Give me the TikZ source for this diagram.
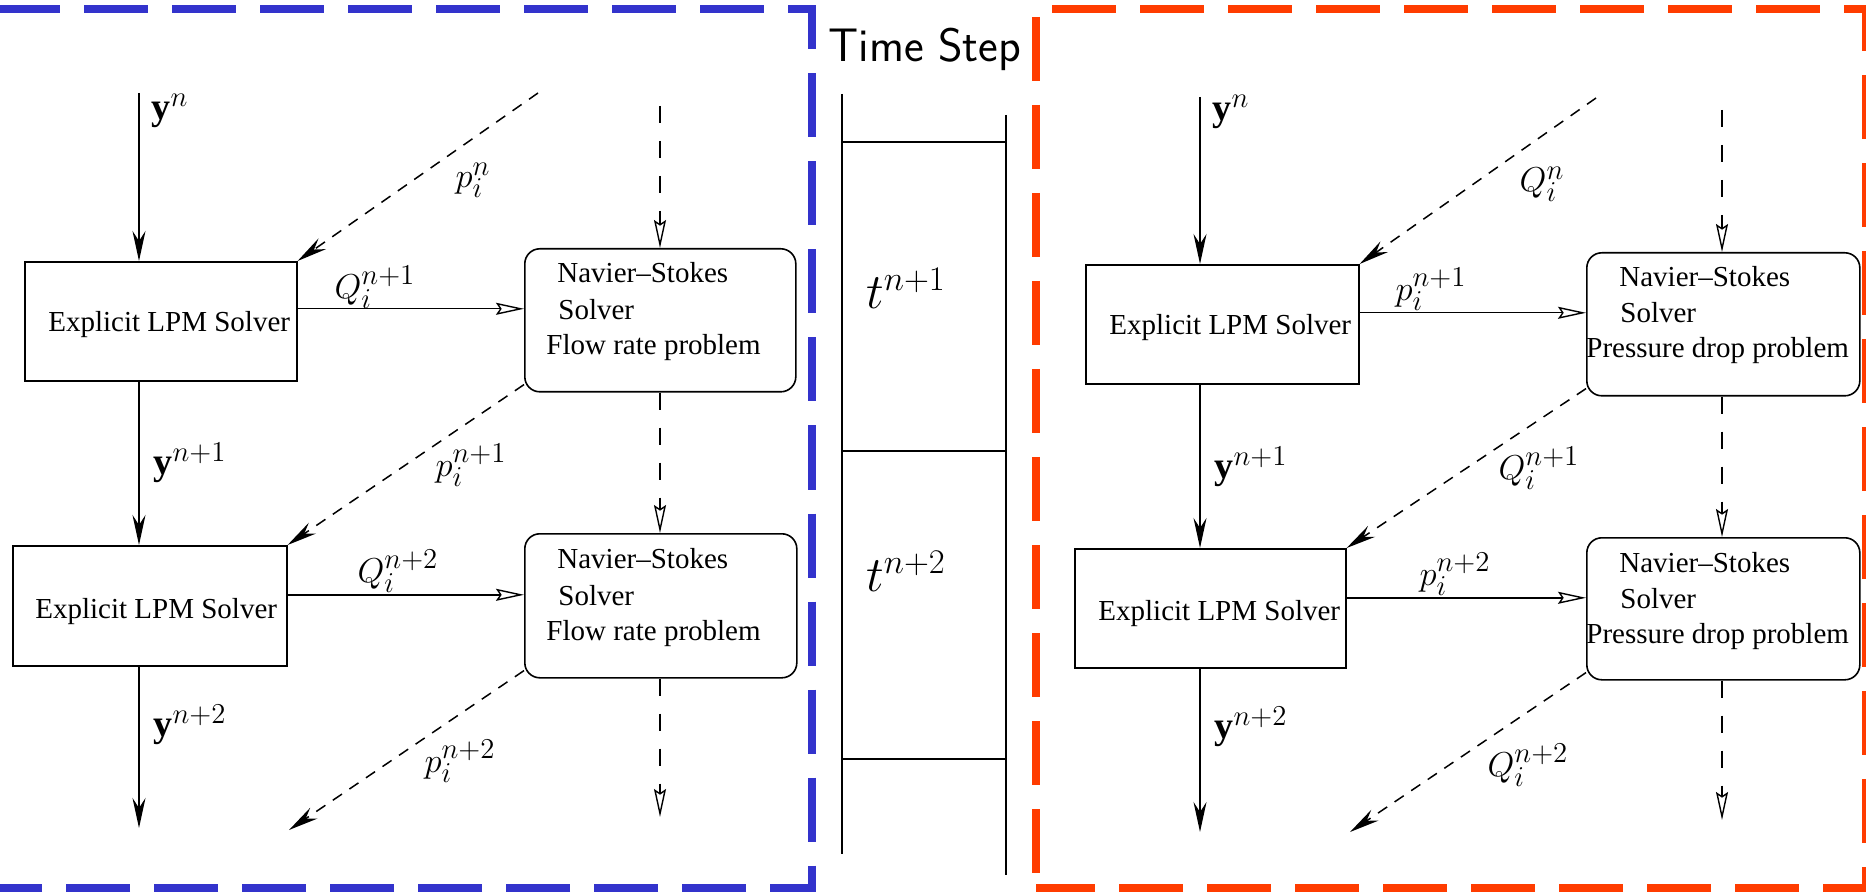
\documentclass[tikz,border=0pt]{standalone}
\usepackage{fontspec}
\setmainfont{Liberation Serif}
\usetikzlibrary{arrows.meta}
\definecolor{bluebox}{RGB}{51,51,204}
\definecolor{redbox}{RGB}{255,60,0}
\tikzset{
  dashframe/.style={line width=4pt, dash pattern=on 32pt off 12pt},
  lpmbox/.style={draw, line width=0.8pt, rectangle, inner sep=0pt, anchor=north west},
  nsbox/.style={draw, line width=0.8pt, rectangle, rounded corners=7.5pt, inner sep=0pt, anchor=north west},
  boxtext/.style={anchor=base west, inner sep=0pt, font=\fontsize{14.5}{17}\selectfont},
  mlabel/.style={inner sep=0pt, font=\fontsize{19}{22}\selectfont},
  tlabel/.style={inner sep=0pt, font=\fontsize{24}{28}\selectfont},
  solidarrow/.style={line width=0.7pt, -{Stealth[length=15pt,width=6.5pt,inset=5pt]}},
  openarrow/.style={line width=0.7pt, -{Stealth[open,length=14pt,width=6pt,inset=2pt]}},
  diagarrow/.style={line width=0.75pt, dash pattern=on 5.5pt off 4.5pt, -{Stealth[length=15pt,width=6.5pt,inset=5pt]}},
  vdash/.style={line width=0.7pt, dash pattern=on 8.5pt off 9pt, -{Stealth[open,length=14pt,width=6pt,inset=2pt]}},
  tline/.style={line width=0.7pt},
}
\begin{document}
\begin{tikzpicture}[x=0.5pt,y=-0.5pt]
\useasboundingbox (0,0) rectangle (1866,892);

% frames
\draw[dashframe, bluebox] (-4,9) -- (811.5,9) -- (811.5,888) -- (-100,888);
\draw[dashframe, redbox] (1052,9) -- (1866,9) -- (1866,888) -- (1036,888);
\draw[dashframe, redbox, dash phase=40pt] (1036,9) -- (1036,888);

% ---------------- left panel ----------------
\node[lpmbox, minimum width=136pt, minimum height=59.5pt] (L1) at (24,261) {};
\node[lpmbox, minimum width=137pt, minimum height=60pt] (L2) at (12,545) {};
\node[nsbox, minimum width=135.5pt, minimum height=71.5pt] (N1) at (524,248) {};
\node[nsbox, minimum width=136pt, minimum height=72pt] (N2) at (524,533) {};

\node[boxtext] (L1t) at (48,332) {Explicit LPM Solver};
\node[boxtext] (L2t) at (35,618) {Explicit LPM Solver};
\node[boxtext] (N1a) at (557,283) {Navier--Stokes};
\node[boxtext] (N1b) at (558,320) {Solver};
\node[boxtext] (N1c) at (546,355) {Flow rate problem};
\node[boxtext] (N2a) at (557,568) {Navier--Stokes};
\node[boxtext] (N2b) at (558,605) {Solver};
\node[boxtext] (N2c) at (546,640) {Flow rate problem};

\coordinate (lyA) at (139,93);
\coordinate (lyE) at (139,828);
\draw[solidarrow] (lyA) -- (lyA |- L1.north);
\draw[solidarrow] (lyA |- L1.south) -- (lyA |- L2.north);
\draw[solidarrow] (lyA |- L2.south) -- (lyE);

\coordinate (lpA) at (538,93);
\coordinate (lpE) at (289,830);
\draw[diagarrow] (lpA) -- (L1.north east);
\draw[diagarrow] ([yshift=4pt]N1.south west) -- (L2.north east);
\draw[diagarrow] ([yshift=4pt]N2.south west) -- (lpE);

\draw[openarrow] ([yshift=6.25pt]L1.east) -- ([yshift=6.25pt]L1.east -| N1.west);
\draw[openarrow] ([yshift=5.5pt]L2.east) -- ([yshift=5.5pt]L2.east -| N2.west);

\coordinate (lvA) at (660,106);
\coordinate (lvE) at (660,817);
\draw[vdash] (lvA) -- (lvA |- N1.north);
\draw[vdash] (lvA |- N1.south) -- (lvA |- N2.north);
\draw[vdash] (lvA |- N2.south) -- (lvE);

\node[mlabel] (lyl0) at (170,111) {$\mathbf{y}^{n}$};
\node[mlabel] (lpl0) at (473,180) {$p_i^{n}$};
\node[mlabel] (lql1) at (375,287) {$Q_i^{n+1}$};
\node[mlabel] (lyl1) at (190,463) {$\mathbf{y}^{n+1}$};
\node[mlabel] (lpl1) at (471,465) {$p_i^{n+1}$};
\node[mlabel] (lql2) at (398,571) {$Q_i^{n+2}$};
\node[mlabel] (lyl2) at (190,725) {$\mathbf{y}^{n+2}$};
\node[mlabel] (lpl2) at (460,761) {$p_i^{n+2}$};

% ---------------- middle: time step ----------------
\node[anchor=base west, inner sep=0pt, font=\sffamily\fontsize{23.5}{28}\selectfont] (ts) at (828,62) {Time Step};
\coordinate (tlA) at (842,94);
\coordinate (tlE) at (842,854);
\coordinate (trA) at (1006,115);
\coordinate (trE) at (1006,875);
\draw[tline] (tlA) -- (tlE);
\draw[tline] (trA) -- (trE);
\draw[tline] (tlA |- 0,142) -- (trA |- 0,142);
\draw[tline] (tlA |- 0,451) -- (trA |- 0,451);
\draw[tline, line width=1pt] (tlA |- 0,759) -- (trA |- 0,759);
\node[tlabel] (t1) at (906,288) {$t^{n+1}$};
\node[tlabel] (t2) at (906,571) {$t^{n+2}$};

% ---------------- right panel ----------------
\node[lpmbox, minimum width=136.5pt, minimum height=59.5pt] (R1) at (1085,264) {};
\node[lpmbox, minimum width=135.5pt, minimum height=59.5pt] (R2) at (1074,548) {};
\node[nsbox, minimum width=136.5pt, minimum height=71.5pt] (RN1) at (1586,252) {};
\node[nsbox, minimum width=136.5pt, minimum height=71pt] (RN2) at (1586,537) {};

\node[boxtext] (R1t) at (1109,335) {Explicit LPM Solver};
\node[boxtext] (R2t) at (1098,620) {Explicit LPM Solver};
\node[boxtext] (RN1a) at (1619,287) {Navier--Stokes};
\node[boxtext] (RN1b) at (1620,323) {Solver};
\node[boxtext] (RN1c) at (1586,358) {Pressure drop problem};
\node[boxtext] (RN2a) at (1619,572) {Navier--Stokes};
\node[boxtext] (RN2b) at (1620,608) {Solver};
\node[boxtext] (RN2c) at (1586,643) {Pressure drop problem};

\coordinate (ryA) at (1200,97);
\coordinate (ryE) at (1200,832);
\draw[solidarrow] (ryA) -- (ryA |- R1.north);
\draw[solidarrow] (ryA |- R1.south) -- (ryA |- R2.north);
\draw[solidarrow] (ryA |- R2.south) -- (ryE);

\coordinate (rqA) at (1596,98);
\coordinate (rqE) at (1350,832);
\draw[diagarrow] (rqA) -- (R1.north east);
\draw[diagarrow] ([yshift=4pt]RN1.south west) -- (R2.north east);
\draw[diagarrow] ([yshift=4pt]RN2.south west) -- (rqE);

\draw[openarrow] ([yshift=5.75pt]R1.east) -- ([yshift=5.75pt]R1.east -| RN1.west);
\draw[openarrow] ([yshift=5.25pt]R2.east) -- ([yshift=5.25pt]R2.east -| RN2.west);

\coordinate (rvA) at (1722,110);
\coordinate (rvE) at (1722,820);
\draw[vdash] (rvA) -- (rvA |- RN1.north);
\draw[vdash] (rvA |- RN1.south) -- (rvA |- RN2.north);
\draw[vdash] (rvA |- RN2.south) -- (rvE);

\node[mlabel] (ryl0) at (1231,112) {$\mathbf{y}^{n}$};
\node[mlabel] (rql0) at (1542,184) {$Q_i^{n}$};
\node[mlabel] (rpl1) at (1431,289) {$p_i^{n+1}$};
\node[mlabel] (ryl1) at (1251,467) {$\mathbf{y}^{n+1}$};
\node[mlabel] (rql1) at (1539,468) {$Q_i^{n+1}$};
\node[mlabel] (rpl2) at (1455,574) {$p_i^{n+2}$};
\node[mlabel] (ryl2) at (1251,727) {$\mathbf{y}^{n+2}$};
\node[mlabel] (rql2) at (1528,765) {$Q_i^{n+2}$};
\end{tikzpicture}
\end{document}
